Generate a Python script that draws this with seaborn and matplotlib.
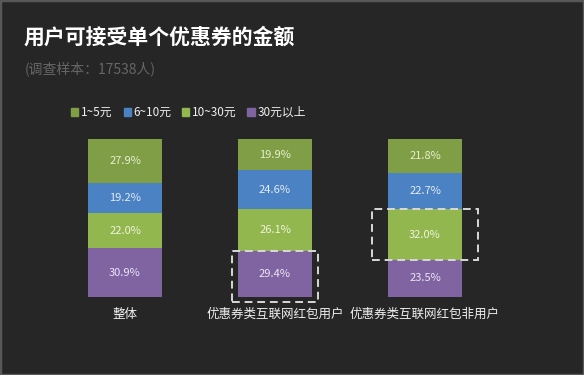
import numpy as np
import pandas as pd
import seaborn as sns
import matplotlib.pyplot as plt
from matplotlib.patches import Patch, Rectangle

# data
groups = ['整体', '优惠券类互联网红包用户', '优惠券类互联网红包非用户']
ranges = ['1~5元', '6~10元', '10~30元', '30元以上']
v_1_5 = [27.9, 19.9, 21.8]
v_6_10 = [19.2, 24.6, 22.7]
v_10_30 = [22.0, 26.1, 32.0]
v_30_up = [30.9, 29.4, 23.5]
colors = ['#7f9e46', '#4b82c3', '#93b74f', '#8064a2']
text_colors = ['#e6efcf', '#e3ecf7', '#eef4da', '#ece4f5']
# highlighted segments: (group index, range index)
highlights = [(1, 3), (2, 2)]

sns.set_theme(style='white')
plt.rcParams['font.family'] = ['Noto Sans CJK SC', 'DejaVu Sans']

bg = '#262626'
fig = plt.figure(figsize=(5.84, 3.75), dpi=100, facecolor=bg)
ax = fig.add_axes([50 / 584, 78 / 375, 450 / 584, 158 / 375])
ax.set_facecolor(bg)

# stack from bottom: 30元以上, 10~30元, 6~10元, 1~5元
stack = [v_30_up, v_10_30, v_6_10, v_1_5]
stack_idx = [3, 2, 1, 0]
df = pd.DataFrame({'group': groups})
bottoms = np.zeros(len(groups))
seg = {}
for vals, k in zip(stack, stack_idx):
    vals = np.array(vals)
    df['val'] = vals
    sns.barplot(data=df, x='group', y='val', color=colors[k], width=0.49,
                bottom=bottoms, saturation=1, linewidth=0, ax=ax)
    for i in range(len(groups)):
        seg[(i, k)] = (bottoms[i], vals[i])
        ax.text(i, bottoms[i] + vals[i] / 2, f'{vals[i]:.1f}%', ha='center',
                va='center', color=text_colors[k], fontsize=8)
    bottoms = bottoms + vals

# dashed boxes around highlighted segments
for (i, k) in highlights:
    b, h = seg[(i, k)]
    padx = 0.04 if i == 1 else 0.11
    pad_bottom = 3.2 if b == 0 else 0
    ax.add_patch(Rectangle((i - 0.245 - padx, b - pad_bottom), 0.49 + 2 * padx,
                           h + pad_bottom, fill=False, edgecolor='#d8d8d8',
                           linewidth=1.4, linestyle=(0, (4, 2.5)), clip_on=False,
                           zorder=5))

ax.set_xlim(-0.5, 2.5)
ax.set_ylim(0, 100)
ax.set_xlabel('')
ax.set_ylabel('')
ax.set_yticks([])
ax.tick_params(axis='x', length=0, colors='#f0f0f0', labelsize=9, pad=8)
sns.despine(ax=ax, left=True, bottom=True)

# legend
handles = [Patch(color=colors[k], label=ranges[k]) for k in range(4)]
fig.legend(handles=handles, loc='center', bbox_to_anchor=(0.323, 0.70), ncol=4,
           frameon=False, fontsize=8.5, labelcolor='#f0f0f0', handlelength=0.6,
           handleheight=0.6, handletextpad=0.25, columnspacing=0.9)

fig.text(24 / 584, 1 - 37 / 375, '用户可接受单个优惠券的金额', color='white',
         fontsize=15, fontweight='bold', va='center')
fig.text(25 / 584, 1 - 69 / 375, '(调查样本：17538人)', color='#666666',
         fontsize=10, va='center')

# frame around the image
fig.patches.append(Rectangle((0, 0), 1, 1, transform=fig.transFigure, fill=False,
                             edgecolor='#585858', linewidth=2.5))

fig.savefig('out.png', dpi=100, facecolor=bg)
